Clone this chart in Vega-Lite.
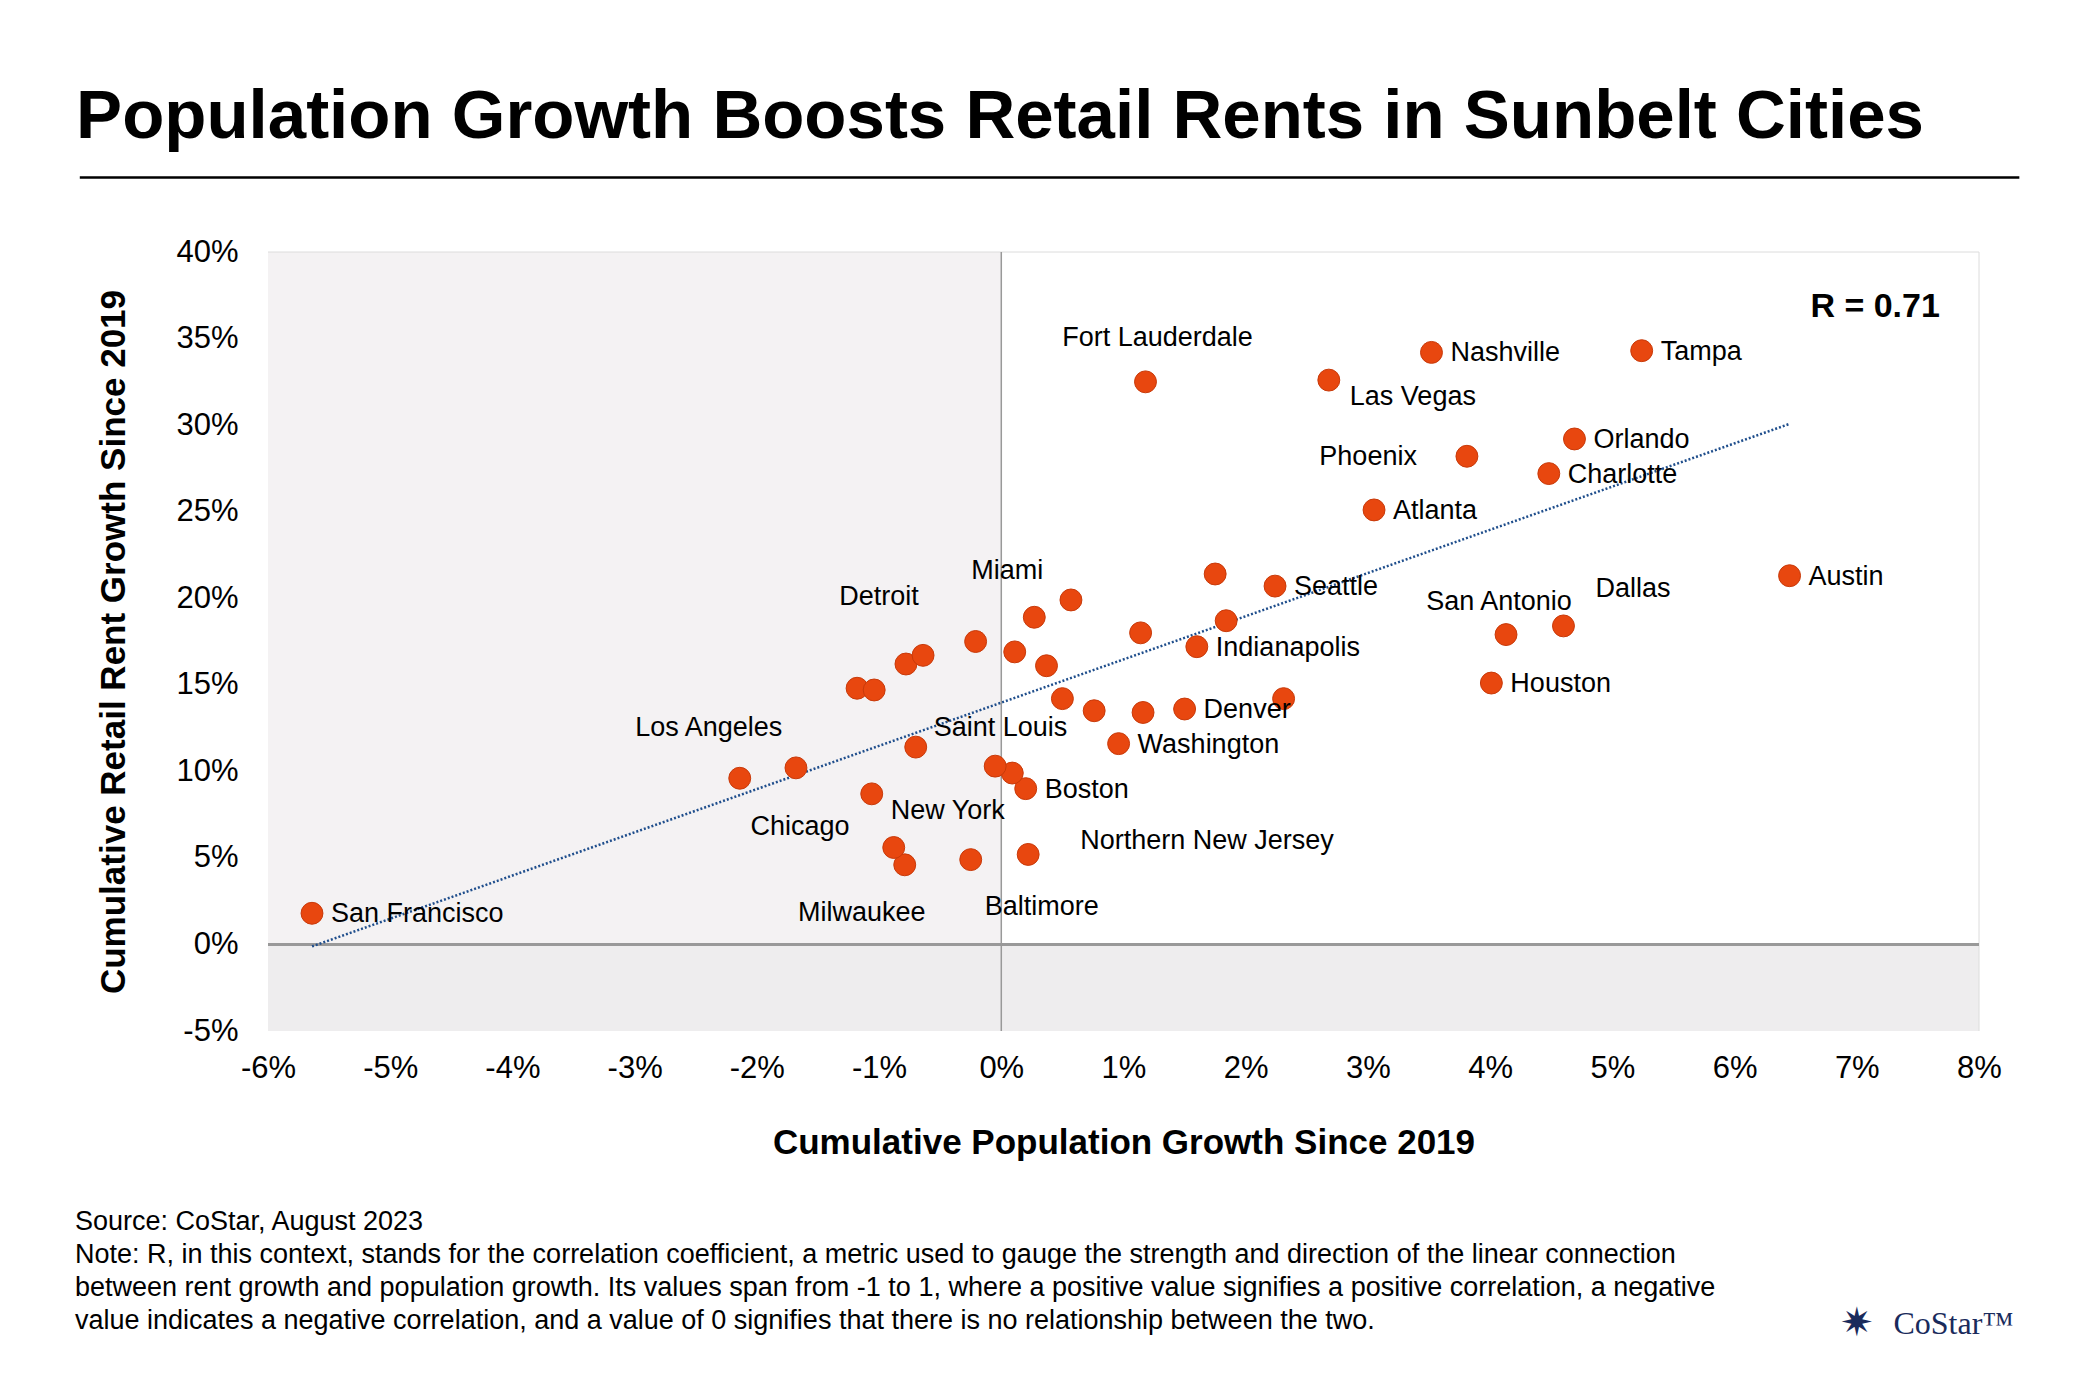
{
"$schema":"https://vega.github.io/schema/vega-lite/v6.json",
"width":1711,"height":779,"autosize":"none",
"padding":{"left":268,"top":252,"right":121,"bottom":369},
"background":"white",
"config":{"font":"Liberation Sans","view":{"stroke":null}},
"datasets":{"pts":[
{"name":"San Francisco","x":-5.64,"y":1.8},{"name":"Los Angeles","x":-2.14,"y":9.6},{"name":"Chicago","x":-1.68,"y":10.2},{"name":"New York","x":-1.06,"y":8.7},{"name":"Milwaukee","x":-0.79,"y":4.6},{"name":"","x":-0.88,"y":5.6},{"name":"Baltimore","x":-0.25,"y":4.9},{"name":"Northern New Jersey","x":0.22,"y":5.2},{"name":"Boston","x":0.2,"y":9.0},{"name":"","x":0.09,"y":9.9},{"name":"","x":-0.05,"y":10.3},{"name":"Saint Louis","x":-0.7,"y":11.4},{"name":"","x":-1.18,"y":14.8},{"name":"","x":-1.04,"y":14.7},{"name":"Detroit","x":-0.78,"y":16.2},{"name":"","x":-0.64,"y":16.7},{"name":"","x":-0.21,"y":17.5},{"name":"","x":0.11,"y":16.9},{"name":"","x":0.37,"y":16.1},{"name":"Miami","x":0.27,"y":18.9},{"name":"","x":0.57,"y":19.9},{"name":"","x":0.5,"y":14.2},{"name":"","x":0.76,"y":13.5},{"name":"Washington","x":0.96,"y":11.6},{"name":"","x":1.16,"y":13.4},{"name":"","x":1.14,"y":18.0},{"name":"Denver","x":1.5,"y":13.6},{"name":"","x":2.31,"y":14.2},{"name":"Indianapolis","x":1.6,"y":17.2},{"name":"","x":1.84,"y":18.7},{"name":"","x":1.75,"y":21.4},{"name":"Seattle","x":2.24,"y":20.7},{"name":"Fort Lauderdale","x":1.18,"y":32.5},{"name":"Las Vegas","x":2.68,"y":32.6},{"name":"Nashville","x":3.52,"y":34.2},{"name":"Tampa","x":5.24,"y":34.3},{"name":"Orlando","x":4.69,"y":29.2},{"name":"Phoenix","x":3.81,"y":28.2},{"name":"Charlotte","x":4.48,"y":27.2},{"name":"Atlanta","x":3.05,"y":25.1},{"name":"Austin","x":6.45,"y":21.3},{"name":"Dallas","x":4.6,"y":18.4},{"name":"San Antonio","x":4.13,"y":17.9},{"name":"Houston","x":4.01,"y":15.1}
]},
"layer":[
{"data":{"values":[{"k":1}]},"mark":{"type":"rect","color":"#f4f2f3"},"encoding":{"x":{"datum":-6,"type":"quantitative"},"x2":{"datum":0},"y":{"datum":0,"type":"quantitative"},"y2":{"datum":40}}},
{"data":{"values":[{"k":1}]},"mark":{"type":"rect","color":"#eeedee"},"encoding":{"x":{"datum":-6,"type":"quantitative"},"x2":{"datum":8},"y":{"datum":-5,"type":"quantitative"},"y2":{"datum":0}}},
{"data":{"name":"pts"},"mark":{"type":"point","opacity":0},"encoding":{
"x":{"field":"x","type":"quantitative","scale":{"domain":[-6,8],"nice":false,"zero":false},
"axis":{"values":[-6,-5,-4,-3,-2,-1,0,1,2,3,4,5,6,7,8],"labelExpr":"datum.value+'%'","labelFlush":false,"labelFontSize":31,"labelColor":"black","labelPadding":22,"title":"Cumulative Population Growth Since 2019","titleFontSize":35,"titleFontWeight":"bold","titleColor":"black","titlePadding":42,"domain":false,"ticks":false,"gridColor":"#dcdcdc"}},
"y":{"field":"y","type":"quantitative","scale":{"domain":[-5,40],"nice":false,"zero":false},
"axis":{"values":[-5,0,5,10,15,20,25,30,35,40],"labelExpr":"datum.value+'%'","labelFlush":false,"labelFontSize":31,"labelColor":"black","labelPadding":30,"title":"Cumulative Retail Rent Growth Since 2019","titleFontSize":35,"titleFontWeight":"bold","titleColor":"black","titlePadding":44,"domain":false,"ticks":false,"gridColor":"#dcdcdc"}}}},
{"data":{"values":[{"k":1}]},"mark":{"type":"rule","color":"#dcdcdc"},"encoding":{"x":{"datum":-6,"type":"quantitative"},"x2":{"datum":8},"y":{"datum":40,"type":"quantitative"}}},
{"data":{"values":[{"k":1}]},"mark":{"type":"rule","color":"#dcdcdc"},"encoding":{"x":{"datum":8,"type":"quantitative"},"y":{"datum":-5,"type":"quantitative"},"y2":{"datum":40}}},
{"data":{"values":[{"k":1}]},"mark":{"type":"rule","color":"#999999","strokeWidth":3},"encoding":{"x":{"datum":-6,"type":"quantitative"},"x2":{"datum":8},"y":{"datum":0,"type":"quantitative"}}},
{"data":{"values":[{"k":1}]},"mark":{"type":"rule","color":"#999999","strokeWidth":1.5},"encoding":{"x":{"datum":0,"type":"quantitative"},"y":{"datum":-5,"type":"quantitative"},"y2":{"datum":40}}},
{"data":{"values":[{"k":1}]},"mark":{"type":"rule","color":"black","strokeWidth":2.5},"encoding":{"x":{"datum":-7.54,"type":"quantitative"},"x2":{"datum":8.33},"y":{"datum":44.3,"type":"quantitative"}}},
{"data":{"values":[{"k":1}]},"mark":{"type":"text","align":"left","baseline":"middle","fontSize":69,"fontWeight":"bold","text":"Population Growth Boosts Retail Rents in Sunbelt Cities"},"encoding":{"x":{"datum":-7.57,"type":"quantitative"},"y":{"datum":47.8,"type":"quantitative"}}},
{"data":{"name":"pts"},"transform":[{"regression":"y","on":"x","extent":[-5.64,6.45]}],"mark":{"type":"line","color":"#1f4e8c","strokeDash":[2,2],"strokeWidth":2.5},"encoding":{"x":{"field":"x","type":"quantitative"},"y":{"field":"y","type":"quantitative"}}},
{"data":{"name":"pts"},"mark":{"type":"circle","color":"#e8470f","opacity":1,"size":480,"stroke":"#c83a0a","strokeWidth":1},"encoding":{"x":{"field":"x","type":"quantitative"},"y":{"field":"y","type":"quantitative"}}},
{"data":{"name":"pts"},"transform":[{"filter":{"field":"name","oneOf":["San Francisco","Nashville","Tampa","Orlando","Charlotte","Atlanta","Austin","Houston","Seattle","Denver","Indianapolis","Washington","Boston"]}}],"mark":{"type":"text","align":"left","baseline":"middle","dx":19,"dy":1,"fontSize":27},"encoding":{"x":{"field":"x","type":"quantitative"},"y":{"field":"y","type":"quantitative"},"text":{"field":"name"}}},
{"data":{"name":"pts"},"transform":[{"filter":"datum.name=='Las Vegas'"}],"mark":{"type":"text","align":"left","baseline":"middle","dx":21,"dy":17,"fontSize":27},"encoding":{"x":{"field":"x","type":"quantitative"},"y":{"field":"y","type":"quantitative"},"text":{"field":"name"}}},
{"data":{"name":"pts"},"transform":[{"filter":"datum.name=='New York'"}],"mark":{"type":"text","align":"left","baseline":"middle","dx":19,"dy":17,"fontSize":27},"encoding":{"x":{"field":"x","type":"quantitative"},"y":{"field":"y","type":"quantitative"},"text":{"field":"name"}}},
{"data":{"name":"pts"},"transform":[{"filter":"datum.name=='Saint Louis'"}],"mark":{"type":"text","align":"left","baseline":"middle","dx":18,"dy":-19,"fontSize":27},"encoding":{"x":{"field":"x","type":"quantitative"},"y":{"field":"y","type":"quantitative"},"text":{"field":"name"}}},
{"data":{"name":"pts"},"transform":[{"filter":"datum.name=='Northern New Jersey'"}],"mark":{"type":"text","align":"left","baseline":"middle","dx":52,"dy":-13,"fontSize":27},"encoding":{"x":{"field":"x","type":"quantitative"},"y":{"field":"y","type":"quantitative"},"text":{"field":"name"}}},
{"data":{"name":"pts"},"transform":[{"filter":"datum.name=='Dallas'"}],"mark":{"type":"text","align":"left","baseline":"middle","dx":32,"dy":-37,"fontSize":27},"encoding":{"x":{"field":"x","type":"quantitative"},"y":{"field":"y","type":"quantitative"},"text":{"field":"name"}}},
{"data":{"name":"pts"},"transform":[{"filter":"datum.name=='Phoenix'"}],"mark":{"type":"text","align":"right","baseline":"middle","dx":-50,"dy":1,"fontSize":27},"encoding":{"x":{"field":"x","type":"quantitative"},"y":{"field":"y","type":"quantitative"},"text":{"field":"name"}}},
{"data":{"name":"pts"},"transform":[{"filter":"datum.name=='Fort Lauderdale'"}],"mark":{"type":"text","align":"center","baseline":"middle","dx":12,"dy":-44,"fontSize":27},"encoding":{"x":{"field":"x","type":"quantitative"},"y":{"field":"y","type":"quantitative"},"text":{"field":"name"}}},
{"data":{"name":"pts"},"transform":[{"filter":"datum.name=='Miami'"}],"mark":{"type":"text","align":"center","baseline":"middle","dx":-27,"dy":-46,"fontSize":27},"encoding":{"x":{"field":"x","type":"quantitative"},"y":{"field":"y","type":"quantitative"},"text":{"field":"name"}}},
{"data":{"name":"pts"},"transform":[{"filter":"datum.name=='Detroit'"}],"mark":{"type":"text","align":"center","baseline":"middle","dx":-27,"dy":-67,"fontSize":27},"encoding":{"x":{"field":"x","type":"quantitative"},"y":{"field":"y","type":"quantitative"},"text":{"field":"name"}}},
{"data":{"name":"pts"},"transform":[{"filter":"datum.name=='Los Angeles'"}],"mark":{"type":"text","align":"center","baseline":"middle","dx":-31,"dy":-50,"fontSize":27},"encoding":{"x":{"field":"x","type":"quantitative"},"y":{"field":"y","type":"quantitative"},"text":{"field":"name"}}},
{"data":{"name":"pts"},"transform":[{"filter":"datum.name=='San Antonio'"}],"mark":{"type":"text","align":"center","baseline":"middle","dx":-7,"dy":-33,"fontSize":27},"encoding":{"x":{"field":"x","type":"quantitative"},"y":{"field":"y","type":"quantitative"},"text":{"field":"name"}}},
{"data":{"name":"pts"},"transform":[{"filter":"datum.name=='Chicago'"}],"mark":{"type":"text","align":"center","baseline":"middle","dx":4,"dy":59,"fontSize":27},"encoding":{"x":{"field":"x","type":"quantitative"},"y":{"field":"y","type":"quantitative"},"text":{"field":"name"}}},
{"data":{"name":"pts"},"transform":[{"filter":"datum.name=='Milwaukee'"}],"mark":{"type":"text","align":"center","baseline":"middle","dx":-43,"dy":48,"fontSize":27},"encoding":{"x":{"field":"x","type":"quantitative"},"y":{"field":"y","type":"quantitative"},"text":{"field":"name"}}},
{"data":{"name":"pts"},"transform":[{"filter":"datum.name=='Baltimore'"}],"mark":{"type":"text","align":"center","baseline":"middle","dx":71,"dy":47,"fontSize":27},"encoding":{"x":{"field":"x","type":"quantitative"},"y":{"field":"y","type":"quantitative"},"text":{"field":"name"}}},
{"data":{"values":[{"k":1}]},"mark":{"type":"text","align":"right","baseline":"middle","fontSize":34,"fontWeight":"bold","text":"R = 0.71"},"encoding":{"x":{"datum":7.68,"type":"quantitative"},"y":{"datum":36.8,"type":"quantitative"}}},
{"data":{"values":[{"k":1}]},"mark":{"type":"text","align":"left","baseline":"top","fontSize":27,"lineHeight":33,"text":["Source: CoStar, August 2023","Note: R, in this context, stands for the correlation coefficient, a metric used to gauge the strength and direction of the linear connection","between rent growth and population growth. Its values span from -1 to 1, where a positive value signifies a positive correlation, a negative","value indicates a negative correlation, and a value of 0 signifies that there is no relationship between the two."]},"encoding":{"x":{"datum":-7.58,"type":"quantitative"},"y":{"datum":-15.3,"type":"quantitative"}}},
{"data":{"values":[{"k":1}]},"mark":{"type":"text","align":"left","baseline":"middle","fontSize":32,"font":"Liberation Serif","color":"#1a2b5c","text":"CoStar™"},"encoding":{"x":{"datum":7.3,"type":"quantitative"},"y":{"datum":-21.9,"type":"quantitative"}}},
{"data":{"values":[{"k":1}]},"mark":{"type":"text","align":"center","baseline":"middle","fontSize":40,"color":"#1a2b5c","text":"✷"},"encoding":{"x":{"datum":7.0,"type":"quantitative"},"y":{"datum":-21.9,"type":"quantitative"}}}
]
}
